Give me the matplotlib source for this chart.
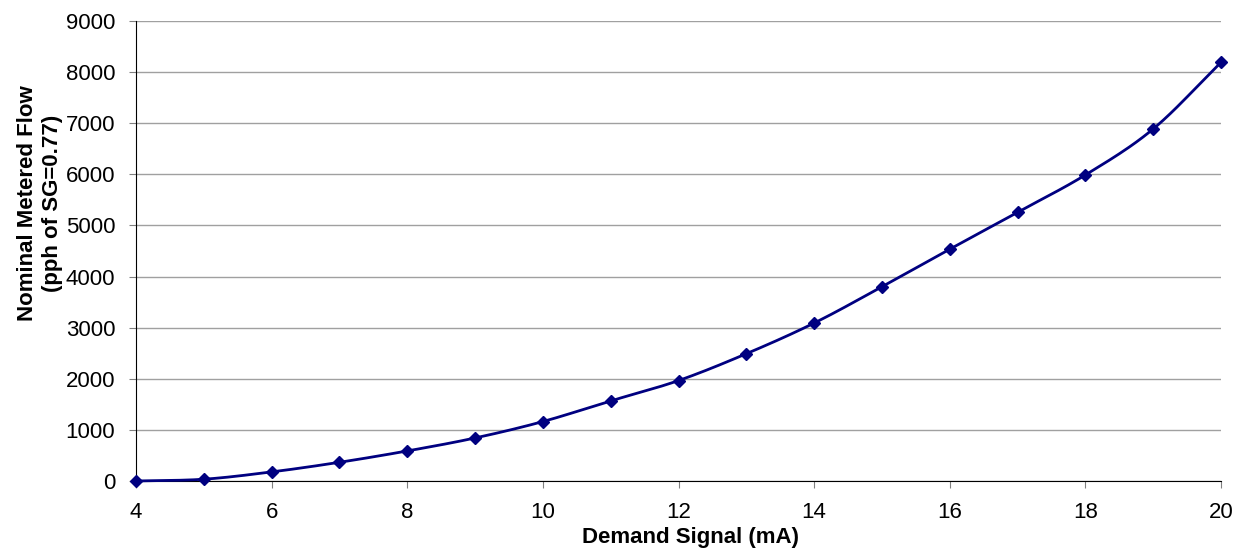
import numpy as np
import matplotlib.pyplot as plt

# data
demand_ma = [4, 5, 6, 7, 8, 9, 10, 11, 12, 13, 14, 15, 16, 17, 18, 19, 20]
flow_pph = [0, 35, 178, 366, 588, 842, 1163, 1567, 1965, 2490, 3090,
            3800, 4535, 5258, 5988, 6888, 8192]

x_ticks = [4, 6, 8, 10, 12, 14, 16, 18, 20]
y_ticks = [0, 1000, 2000, 3000, 4000, 5000, 6000, 7000, 8000, 9000]

plt.rcParams['font.family'] = ['Liberation Sans', 'DejaVu Sans']

# smoothed line like excel (catmull-rom through the points)
def smooth(xs, ys, n=20):
    xs = np.asarray(xs, float)
    ys = np.asarray(ys, float)
    px = np.concatenate([[2 * xs[0] - xs[1]], xs, [2 * xs[-1] - xs[-2]]])
    py = np.concatenate([[2 * ys[0] - ys[1]], ys, [2 * ys[-1] - ys[-2]]])
    out_x, out_y = [], []
    t = np.linspace(0, 1, n, endpoint=False)
    for i in range(1, len(px) - 2):
        for arr, out in ((px, out_x), (py, out_y)):
            p0, p1, p2, p3 = arr[i - 1], arr[i], arr[i + 1], arr[i + 2]
            out.extend(0.5 * (2 * p1 + (-p0 + p2) * t
                              + (2 * p0 - 5 * p1 + 4 * p2 - p3) * t ** 2
                              + (-p0 + 3 * p1 - 3 * p2 + p3) * t ** 3))
    out_x.append(xs[-1])
    out_y.append(ys[-1])
    return out_x, out_y

W, H = 1238, 550
fig = plt.figure(figsize=(W / 100, H / 100), dpi=100)
ax = fig.add_axes([136 / W, 1 - 481 / H, (1221 - 136) / W, (481 - 21) / H])

sx, sy = smooth(demand_ma, flow_pph)
ax.plot(sx, sy, color='#000080', lw=2, clip_on=False, zorder=3)
ax.plot(demand_ma, flow_pph, 'D', color='#000080', ms=6, clip_on=False, zorder=4)

ax.set_xlim(4, 20)
ax.set_ylim(0, 9000)
ax.set_xticks(x_ticks)
ax.set_yticks(y_ticks)
ax.tick_params(labelsize=16, direction='out', length=5, color='#808080', pad=10)
ax.grid(axis='y', color='#a0a0a0', lw=1)
ax.set_axisbelow(True)
for s in ('top', 'right'):
    ax.spines[s].set_visible(False)
ax.spines['left'].set_color('black')
ax.spines['bottom'].set_color('black')

# axis titles placed where excel put them
fig.text(690 / W, 1 - 543 / H, 'Demand Signal (mA)', fontsize=16,
         fontweight='bold', ha='center', va='baseline')
fig.text(40 / W, 1 - 203 / H, 'Nominal Metered Flow\n(pph of SG=0.77)',
         fontsize=16, fontweight='bold', rotation=90, ha='center',
         va='center', multialignment='center')

fig.savefig('out.png', dpi=100)
